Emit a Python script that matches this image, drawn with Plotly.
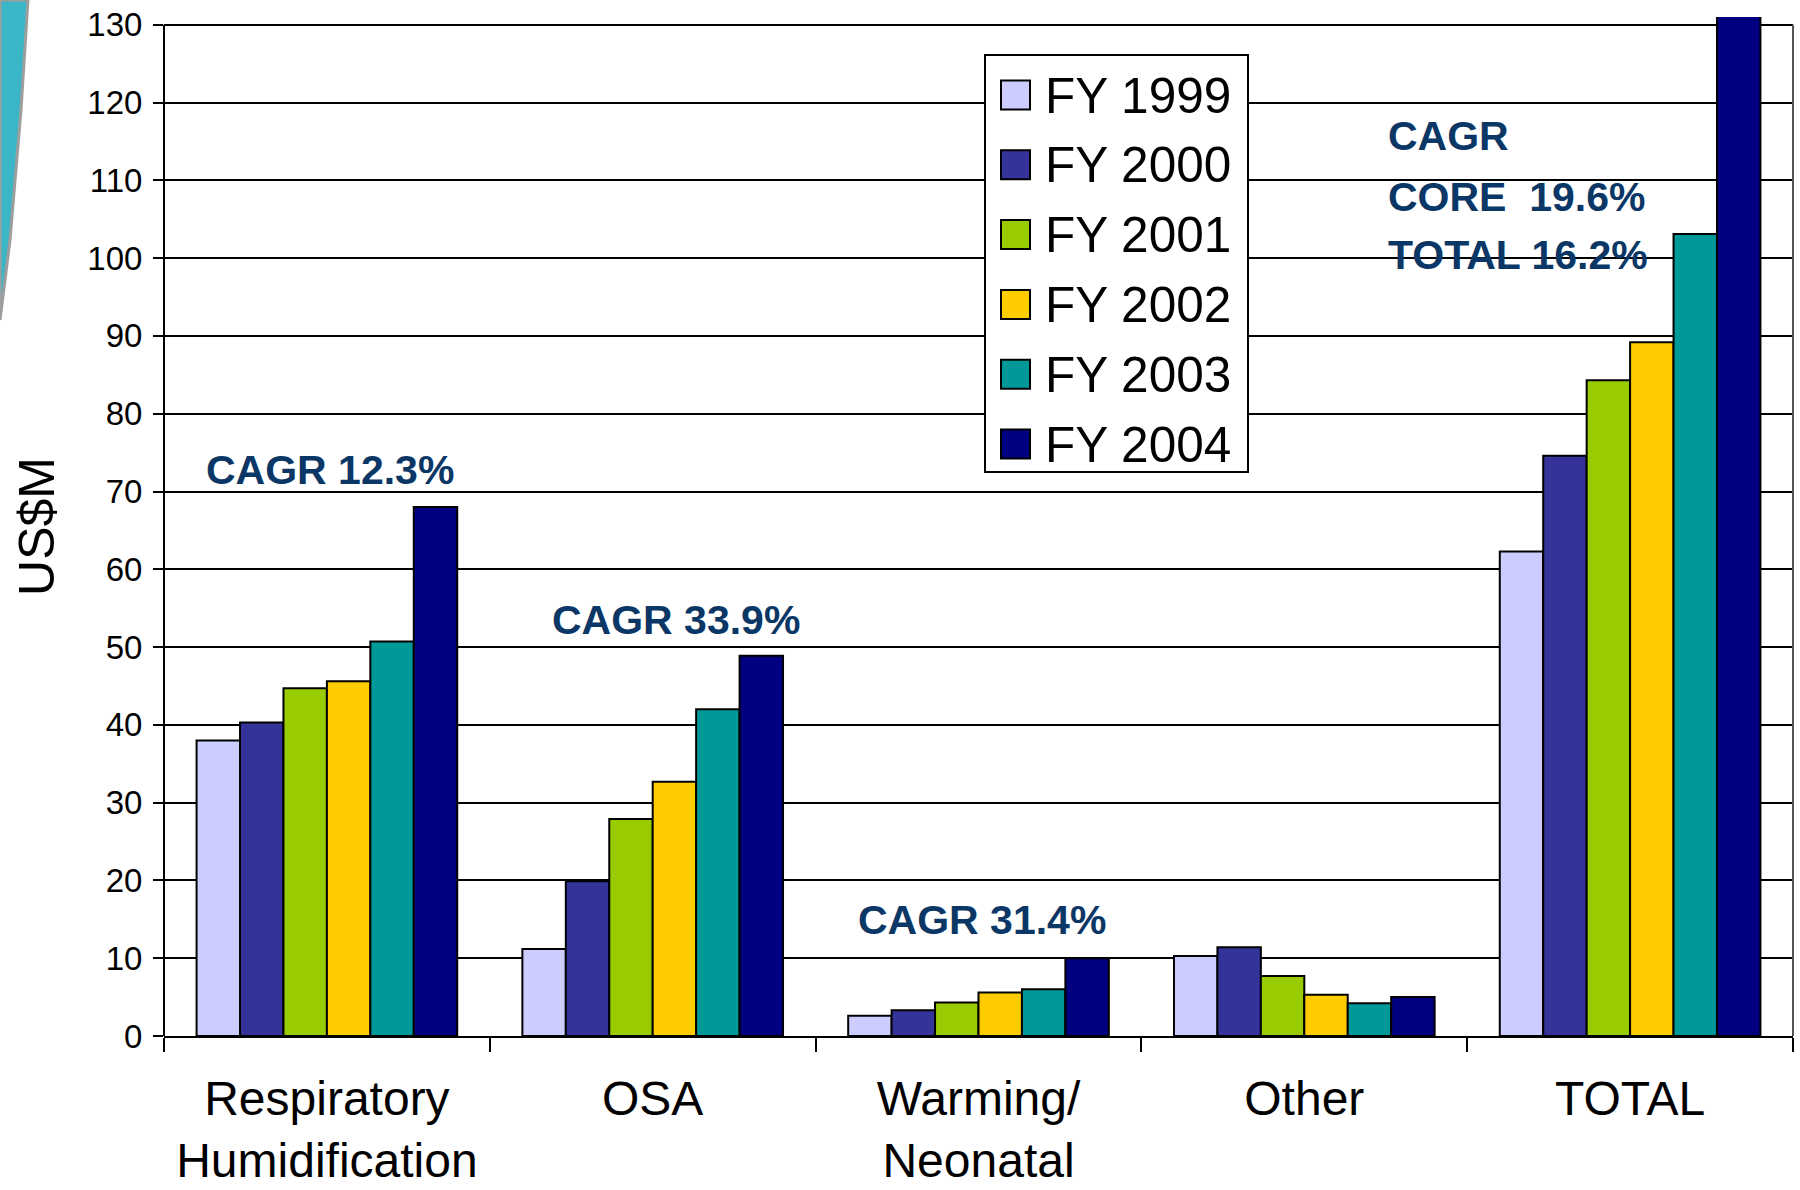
import plotly.graph_objects as go

# ---- data ----
categories = ["Respiratory<br>Humidification", "OSA", "Warming/<br>Neonatal", "Other", "TOTAL"]
series_names = ["FY 1999", "FY 2000", "FY 2001", "FY 2002", "FY 2003", "FY 2004"]
fy1999 = [38.0, 11.2, 2.6, 10.3, 62.3]
fy2000 = [40.3, 19.9, 3.3, 11.4, 74.6]
fy2001 = [44.7, 27.9, 4.3, 7.7, 84.3]
fy2002 = [45.6, 32.7, 5.6, 5.3, 89.2]
fy2003 = [50.7, 42.0, 6.0, 4.2, 103.1]
fy2004 = [68.0, 48.9, 10.0, 5.0, 132.0]
series_values = [fy1999, fy2000, fy2001, fy2002, fy2003, fy2004]
colors = ["#CCCCFF", "#333399", "#99CC00", "#FFCC00", "#009999", "#000080"]
y_tick_vals = list(range(0, 131, 10))
cagr_labels = ["CAGR 12.3%", "CAGR 33.9%", "CAGR 31.4%"]
cagr_total_lines = ["CAGR", "CORE\u00a0 19.6%", "TOTAL 16.2%"]

# ---- geometry (screen pixels; page body margin removed by post_script) ----
W, H = 1800, 1190
L, R, T, B = 164, 1793, 17, 1036  # plot area in pixels


def px_x(px):
    return (px - L) / (R - L)


def px_y(py):
    return (B - py) / (B - T)


FONT = "Liberation Sans, Arial, sans-serif"
NAVY = "#0B3766"

fig = go.Figure()
for name, vals, col in zip(series_names, series_values, colors):
    fig.add_trace(go.Bar(
        x=categories, y=vals, name=name, showlegend=False,
        marker=dict(color=col, line=dict(color="black", width=2)),
    ))

fig.update_layout(
    width=W, height=H,
    margin=dict(l=L, r=W - R, t=T, b=H - B),
    paper_bgcolor="white", plot_bgcolor="white",
    barmode="group", bargap=0.2, bargroupgap=0,
    font=dict(family=FONT, color="black"),
    xaxis=dict(
        automargin=False,
        tickson="boundaries", ticks="outside", ticklen=14, tickwidth=2, tickcolor="black",
        showline=True, linecolor="black", linewidth=2,
        showgrid=False, tickfont=dict(size=48, family=FONT, color="black"),
        ticklabelstandoff=19,
    ),
    yaxis=dict(
        automargin=False,
        range=[0, 131], tickvals=y_tick_vals,
        ticks="outside", ticklen=10, tickwidth=2, tickcolor="black",
        showgrid=True, gridcolor="black", gridwidth=2,
        zeroline=False, showline=False,
        tickfont=dict(size=33, family=FONT, color="black"),
        ticklabelstandoff=4, ticklabeloverflow="allow",
        title=dict(text="US$M", font=dict(size=50, family=FONT, color="black"), standoff=16),
    ),
)

shapes = []
# y axis line and right frame line (0..130)
shapes.append(dict(type="line", xref="paper", yref="y", x0=0, x1=0, y0=0, y1=130,
                   line=dict(color="black", width=2)))
shapes.append(dict(type="line", xref="paper", yref="y", x0=1, x1=1, y0=0, y1=130,
                   line=dict(color="#555555", width=2)))

# decorative teal strip at top-left
deco = [(0, 0), (28, 0), (21, 110), (10, 240), (0, 320)]
path = "M " + " L ".join(f"{px_x(a)},{px_y(b)}" for a, b in deco) + " Z"
shapes.append(dict(type="path", xref="paper", yref="paper", path=path,
                   fillcolor="#3BB6C6", line=dict(color="#9E9E9E", width=3), layer="above"))

# legend box
shapes.append(dict(type="rect", xref="paper", yref="paper",
                   x0=px_x(985), x1=px_x(1248), y0=px_y(472), y1=px_y(55),
                   fillcolor="white", line=dict(color="black", width=2), layer="above"))
annotations = []
row0, row_step = 95, 69.8
for i, (name, col) in enumerate(zip(series_names, colors)):
    cy = row0 + i * row_step
    shapes.append(dict(type="rect", xref="paper", yref="paper",
                       x0=px_x(1001), x1=px_x(1030), y0=px_y(cy + 14.5), y1=px_y(cy - 14.5),
                       fillcolor=col, line=dict(color="black", width=2), layer="above"))
    annotations.append(dict(xref="paper", yref="paper", x=px_x(1043), y=px_y(cy),
                            text=name, showarrow=False, xanchor="left", yanchor="middle",
                            font=dict(size=49.5, family=FONT, color="black")))

# CAGR annotations
cagr_pos = [(0.01, 72.7), (1.07, 53.5), (2.01, 14.9)]
for txt, (cx, cy) in zip(cagr_labels, cagr_pos):
    annotations.append(dict(xref="x", yref="y", x=cx, y=cy, text=f"<b>{txt}</b>",
                            showarrow=False, xanchor="center", yanchor="middle",
                            font=dict(size=41, family=FONT, color=NAVY)))
for txt, yy in zip(cagr_total_lines, [115.7, 107.9, 100.4]):
    annotations.append(dict(xref="x", yref="y", x=3.25, y=yy, text=f"<b>{txt}</b>",
                            showarrow=False, xanchor="left", yanchor="middle",
                            font=dict(size=41, family=FONT, color=NAVY)))

fig.update_layout(shapes=shapes, annotations=annotations)
fig.write_html("out.html", config={"displayModeBar": False},
               post_script="document.body.style.margin='0';document.body.style.overflow='hidden';")
